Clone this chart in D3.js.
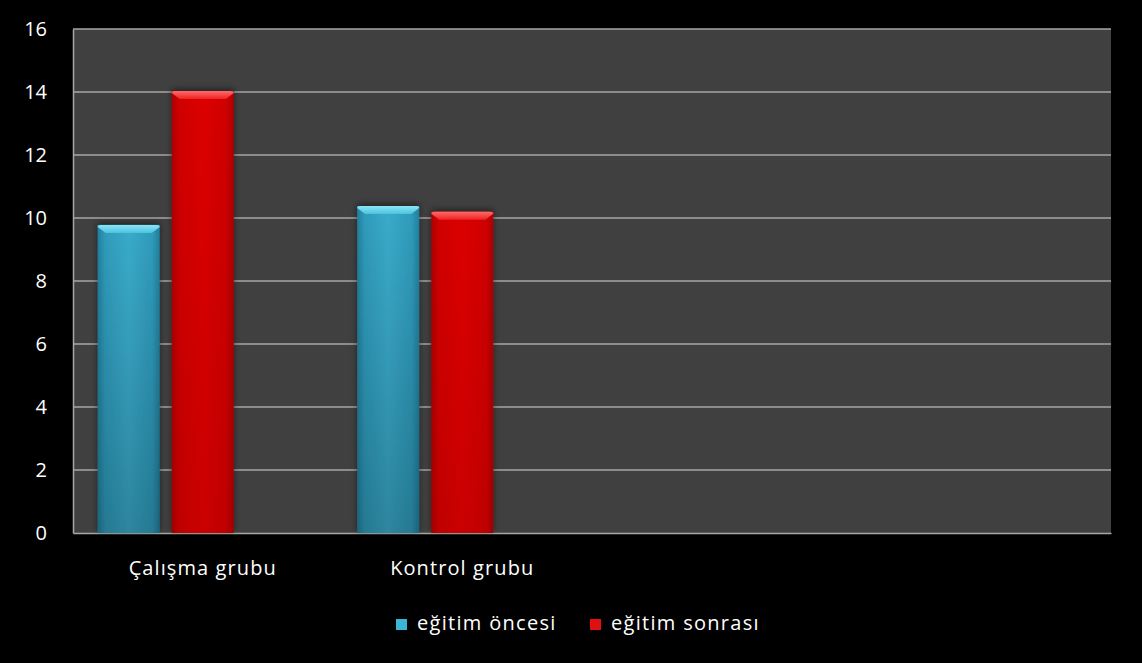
<!DOCTYPE html>
<html><head><meta charset="utf-8">
<script src="https://cdn.jsdelivr.net/npm/d3@7/dist/d3.min.js"></script>
<style>html,body{margin:0;padding:0;background:#000;}svg{display:block;}</style>
</head><body>
<script>
const categories = ["Çalışma grubu", "Kontrol grubu", "", ""];
const seriesNames = ["eğitim öncesi", "eğitim sonrası"];
const before = [9.78, 10.38, null, null];
const after = [14.03, 10.2, null, null];
const yTicks = [0, 2, 4, 6, 8, 10, 12, 14, 16];

const W = 1142, H = 663;
const m = {left: 73, right: 31, top: 29, bottom: 130};
const FONT = "'Open Sans', sans-serif";
const svg = d3.select("body").append("svg").attr("width", W).attr("height", H);
svg.append("rect").attr("width", W).attr("height", H).attr("fill", "#000");

const defs = svg.append("defs");
function grads(id, edge, mid, light, dark) {
  const g = defs.append("linearGradient").attr("id", id).attr("x1", 0).attr("x2", 1).attr("y1", 0).attr("y2", 0);
  g.append("stop").attr("offset", "0%").attr("stop-color", edge);
  g.append("stop").attr("offset", "12%").attr("stop-color", mid);
  g.append("stop").attr("offset", "50%").attr("stop-color", light);
  g.append("stop").attr("offset", "88%").attr("stop-color", mid);
  g.append("stop").attr("offset", "100%").attr("stop-color", edge);
  const v = defs.append("linearGradient").attr("id", id + "v").attr("x1", 0).attr("x2", 0).attr("y1", 0).attr("y2", 1);
  v.append("stop").attr("offset", "0%").attr("stop-color", "#000").attr("stop-opacity", 0);
  v.append("stop").attr("offset", "100%").attr("stop-color", "#000").attr("stop-opacity", dark);
}
grads("gb", "#227f9c", "#2f9bbb", "#3aabcb", 0.22);
grads("gr", "#ac0000", "#cf0000", "#dc0606", 0.08);
const tb = defs.append("linearGradient").attr("id", "tb").attr("x1", 0).attr("x2", 0).attr("y1", 0).attr("y2", 1);
tb.append("stop").attr("offset", "0%").attr("stop-color", "#8ae6f8");
tb.append("stop").attr("offset", "100%").attr("stop-color", "#4cc2de");
const tr = defs.append("linearGradient").attr("id", "tr").attr("x1", 0).attr("x2", 0).attr("y1", 0).attr("y2", 1);
tr.append("stop").attr("offset", "0%").attr("stop-color", "#ff6a6a");
tr.append("stop").attr("offset", "100%").attr("stop-color", "#ee2222");
const sh = defs.append("filter").attr("id", "sh").attr("x", "-20%").attr("y", "-20%").attr("width", "140%").attr("height", "140%");
sh.append("feGaussianBlur").attr("in", "SourceAlpha").attr("stdDeviation", 3).attr("result", "b");
sh.append("feOffset").attr("in", "b").attr("dx", 0).attr("dy", -2).attr("result", "o");
sh.append("feComponentTransfer").attr("in", "o").attr("result", "o2").append("feFuncA").attr("type", "linear").attr("slope", 0.5);
const mg = sh.append("feMerge"); mg.append("feMergeNode").attr("in", "o2"); mg.append("feMergeNode").attr("in", "SourceGraphic");

const pw = W - m.left - m.right, ph = H - m.top - m.bottom;
const x0 = d3.scaleBand().domain(d3.range(categories.length)).range([m.left, m.left + pw]).paddingInner(0.19).paddingOuter(0.095);
const x1 = d3.scaleBand().domain([0, 1, 2]).range([0, x0.bandwidth()]).paddingInner(0.162);
const y = d3.scaleLinear().domain([0, 16]).range([m.top + ph, m.top]);

svg.append("rect").attr("x", m.left).attr("y", m.top).attr("width", pw).attr("height", ph).attr("fill", "#404040");

svg.append("g").selectAll("line").data(yTicks.filter(d => d > 0)).join("line")
  .attr("x1", m.left).attr("x2", m.left + pw).attr("y1", d => y(d)).attr("y2", d => y(d))
  .attr("stroke", "#a6a6a6").attr("stroke-width", 1.5);

const yAxis = svg.append("g").attr("transform", `translate(${m.left},0)`)
  .call(d3.axisLeft(y).tickValues(yTicks).tickSize(0).tickPadding(26));
yAxis.select(".domain").attr("stroke", "#a6a6a6").attr("stroke-width", 1.5);
yAxis.selectAll("text").attr("fill", "#fff").attr("font-family", FONT).attr("font-size", 20);

const xAxis = svg.append("g").attr("transform", `translate(0,${m.top + ph})`)
  .call(d3.axisBottom(x0).tickFormat(i => categories[i]).tickSize(0).tickPadding(28));
xAxis.select(".domain").attr("stroke", "#a6a6a6").attr("stroke-width", 1.5);
xAxis.selectAll("text").attr("fill", "#fff").attr("font-family", FONT).attr("font-size", 20).attr("letter-spacing", "1.1px");

const series = [{vals: before, fill: "url(#gb)", top: "url(#tb)", v: "url(#gbv)"}, {vals: after, fill: "url(#gr)", top: "url(#tr)", v: "url(#grv)"}];
series.forEach((s, si) => {
  const g = svg.append("g");
  const data = s.vals.map((v, i) => ({v, i})).filter(d => d.v != null);
  const bw = x1.bandwidth();
  const bars = g.selectAll("g").data(data).join("g").attr("filter", "url(#sh)");
  bars.append("rect").attr("x", d => x0(d.i) + x1(si)).attr("y", d => y(d.v)).attr("width", bw)
    .attr("height", d => y(0) - y(d.v)).attr("fill", s.fill);
  bars.append("rect").attr("x", d => x0(d.i) + x1(si)).attr("y", d => y(d.v)).attr("width", bw)
    .attr("height", d => y(0) - y(d.v)).attr("fill", s.v);
  bars.append("path").attr("d", d => {
    const xl = x0(d.i) + x1(si), xr = xl + bw, yt = y(d.v);
    return `M${xl},${yt + 2} Q${xl},${yt} ${xl + 3},${yt} L${xr - 3},${yt} Q${xr},${yt} ${xr},${yt + 2} L${xr - 8},${yt + 8} L${xl + 8},${yt + 8} Z`;
  }).attr("fill", s.top);
});

const legend = svg.append("g");
const lx = [396, 590];
seriesNames.forEach((n, i) => {
  legend.append("rect").attr("x", lx[i]).attr("y", 619).attr("width", 11).attr("height", 11)
    .attr("fill", i === 0 ? "#3cb4d6" : "#e01010");
  legend.append("text").attr("x", lx[i] + 21).attr("y", 623).attr("dy", "0.35em")
    .attr("fill", "#fff").attr("font-family", FONT).attr("font-size", 20).attr("letter-spacing", "1.3px").text(n);
});
</script>
</body></html>
